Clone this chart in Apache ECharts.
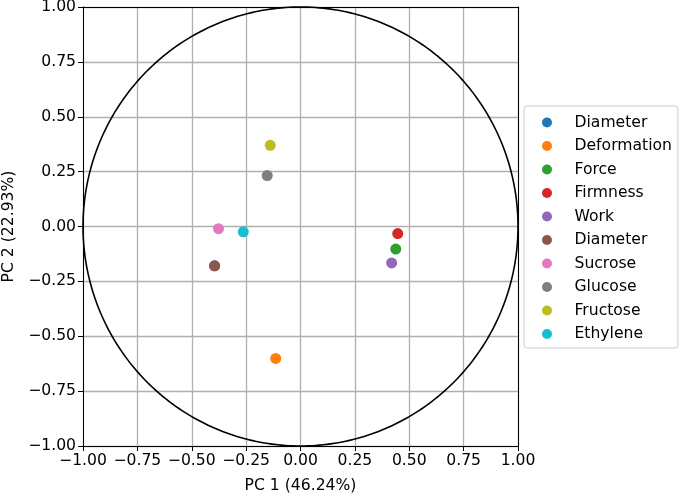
<!DOCTYPE html>
<html>
<head>
<meta charset="utf-8">
<script src="https://cdn.jsdelivr.net/npm/echarts@6/dist/echarts.min.js"></script>
<style>html,body{margin:0;padding:0;background:#fff}#c{width:685px;height:496px}</style>
</head>
<body>
<div id="c"></div>
<script>
const names = ['Diameter','Deformation','Force','Firmness','Work','Diameter','Sucrose','Glucose','Fructose','Ethylene'];
const pc1 = [-0.395,-0.114,0.438,0.447,0.419,-0.395,-0.377,-0.153,-0.139,-0.263];
const pc2 = [-0.179,-0.601,-0.103,-0.032,-0.166,-0.179,-0.010,0.232,0.370,-0.024];
const colors = ['#1f77b4','#ff7f0e','#2ca02c','#d62728','#9467bd','#8c564b','#e377c2','#7f7f7f','#bcbd22','#17becf'];
const axisMin = -1, axisMax = 1, tickInterval = 0.25;
const circleRadius = 1;
const xTitle = 'PC 1 (46.24%)';
const yTitle = 'PC 2 (22.93%)';

const font = 'DejaVu Sans';
const fs = 15.6;
const legendNames = names.map((n, i) => names.indexOf(n) < i ? n + ' ' : n);
const fmt = v => v.toFixed(2).replace('-', '\u2212');

const chart = echarts.init(document.getElementById('c'));

function mainAxis(extra) {
  return Object.assign({
    type: 'value', min: axisMin, max: axisMax, interval: tickInterval,
    nameLocation: 'middle',
    nameTextStyle: { fontFamily: font, fontSize: fs, color: '#000' },
    axisLine: { show: true, onZero: false, lineStyle: { color: '#000', width: 1 } },
    axisTick: { show: true, inside: false, length: 5, lineStyle: { color: '#000', width: 1 } },
    axisLabel: { fontFamily: font, fontSize: fs, color: '#000', formatter: fmt, margin: 7 },
    splitLine: { show: true, lineStyle: { color: '#b0b0b0', width: 1.3 } }
  }, extra);
}
function frameAxis(pos) {
  return {
    type: 'value', min: axisMin, max: axisMax, interval: tickInterval, position: pos,
    axisLine: { show: true, onZero: false, lineStyle: { color: '#000', width: 1 } },
    axisTick: { show: false }, axisLabel: { show: false }, splitLine: { show: false }
  };
}

const series = [{
  type: 'custom',
  silent: true,
  z: 1,
  data: [[0, 0, circleRadius]],
  renderItem: function (params, api) {
    const cx = api.value(0), cy = api.value(1), r = api.value(2);
    const pts = [];
    for (let k = 0; k <= 360; k++) {
      const a = k * Math.PI / 180;
      pts.push(api.coord([cx + r * Math.cos(a), cy + r * Math.sin(a)]));
    }
    return { type: 'polyline', shape: { points: pts }, style: { stroke: '#000', lineWidth: 1.6, fill: null } };
  }
}];

names.forEach((n, i) => {
  series.push({
    type: 'scatter',
    name: legendNames[i],
    z: 5,
    symbol: 'circle',
    symbolSize: 11,
    itemStyle: { color: colors[i], opacity: 1 },
    data: [[pc1[i], pc2[i]]]
  });
});

chart.setOption({
  animation: false,
  grid: { left: 83, right: 167, top: 7, bottom: 50, containLabel: false, outerBoundsMode: 'none' },
  xAxis: [mainAxis({ name: xTitle, nameGap: 32, position: 'bottom' }), frameAxis('top')],
  yAxis: [mainAxis({ name: yTitle, nameGap: 59, position: 'left' }), frameAxis('right')],
  legend: {
    orient: 'vertical',
    left: 524, top: 106,
    data: legendNames,
    icon: 'circle',
    itemWidth: 45, itemHeight: 10, itemGap: 7.5,
    padding: [8.5, 6, 6, 18],
    borderColor: '#cccccc', borderWidth: 1, borderRadius: 3,
    textStyle: { fontFamily: font, fontSize: fs, color: '#000', lineHeight: 15 },
    selectedMode: false
  },
  series: series
});
</script>
</body>
</html>
